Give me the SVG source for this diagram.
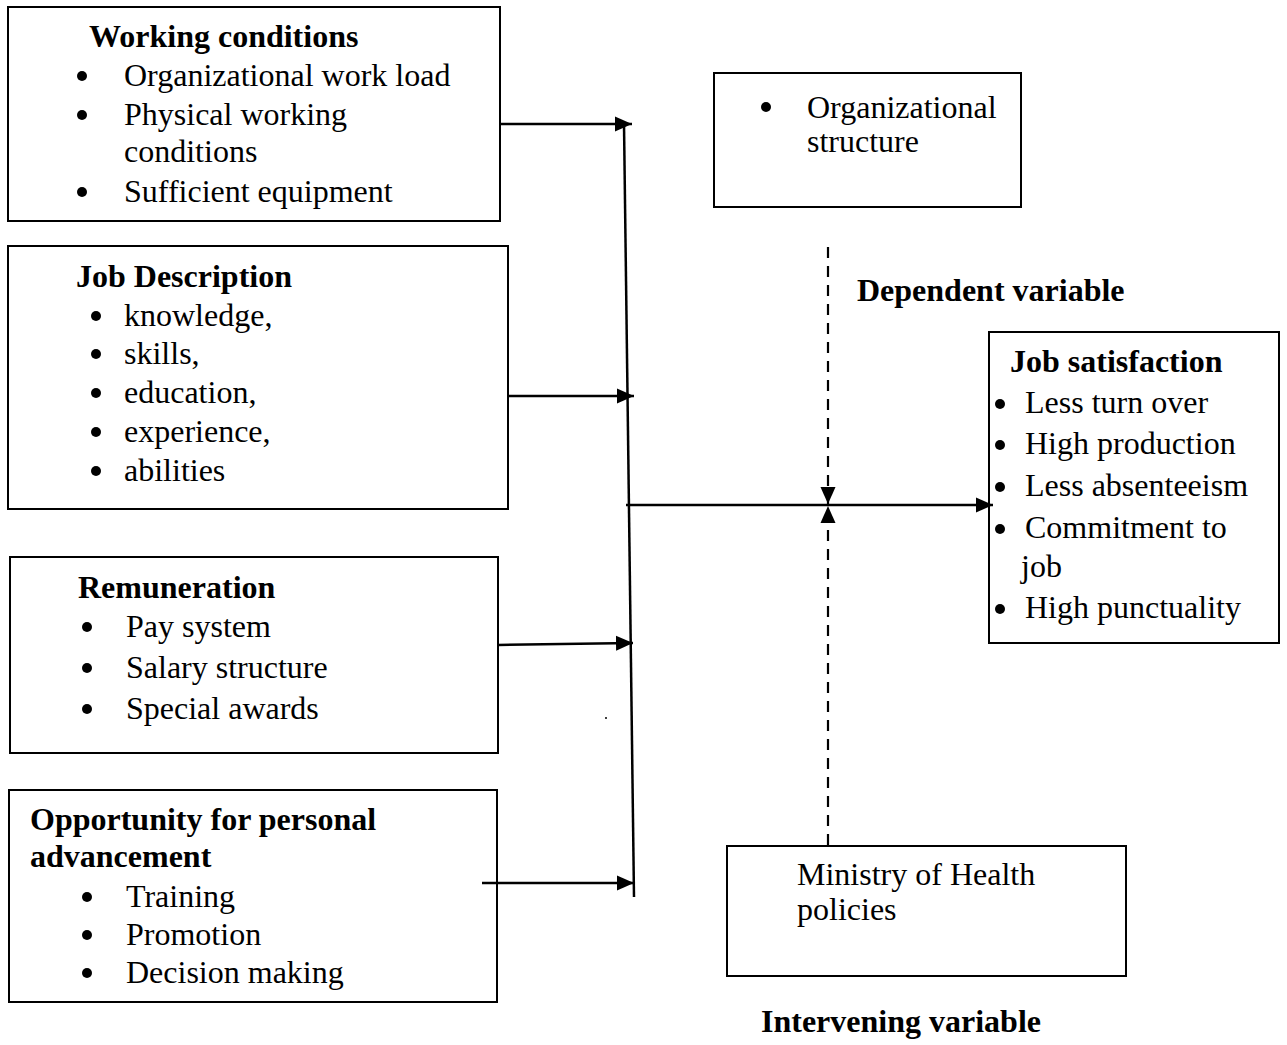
<svg xmlns="http://www.w3.org/2000/svg" width="1287" height="1045" viewBox="0 0 1287 1045">
<style>
.box{fill:#fff;stroke:#000;stroke-width:2}
text{font-family:"Liberation Serif","Times New Roman",serif;font-size:32px;fill:#000}
.b{font-weight:bold}
.dot{fill:#000}
.ln{stroke:#000;stroke-width:2.5;fill:none}
.dash{stroke:#000;stroke-width:2.2;fill:none;stroke-dasharray:11 8}
</style>
<defs>
<marker id="ah" markerUnits="userSpaceOnUse" markerWidth="17" markerHeight="16" viewBox="0 0 17 16" refX="17" refY="8" orient="auto">
<path d="M0,0.5 L17,8 L0,15.5 Z" fill="#000"/>
</marker>
</defs>

<g id="working-conditions">
<rect class="box" x="8" y="7" width="492" height="214"/>
<text class="b" x="89" y="47">Working conditions</text>
<circle class="dot" cx="82" cy="76" r="5"/><text x="124" y="86">Organizational work load</text>
<circle class="dot" cx="82" cy="115" r="5"/><text x="124" y="125">Physical working</text>
<text x="124" y="162">conditions</text>
<circle class="dot" cx="82" cy="192" r="5"/><text x="124" y="202">Sufficient equipment</text>
</g>

<g id="job-description">
<rect class="box" x="8" y="246" width="500" height="263"/>
<text class="b" x="76" y="287">Job Description</text>
<circle class="dot" cx="96" cy="316" r="5"/><text x="124" y="326">knowledge,</text>
<circle class="dot" cx="96" cy="354" r="5"/><text x="124" y="364">skills,</text>
<circle class="dot" cx="96" cy="393" r="5"/><text x="124" y="403">education,</text>
<circle class="dot" cx="96" cy="432" r="5"/><text x="124" y="442">experience,</text>
<circle class="dot" cx="96" cy="471" r="5"/><text x="124" y="481">abilities</text>
</g>

<g id="remuneration">
<rect class="box" x="10" y="557" width="488" height="196"/>
<text class="b" x="78" y="598">Remuneration</text>
<circle class="dot" cx="87" cy="627" r="5"/><text x="126" y="637">Pay system</text>
<circle class="dot" cx="87" cy="668" r="5"/><text x="126" y="678">Salary structure</text>
<circle class="dot" cx="87" cy="709" r="5"/><text x="126" y="719">Special awards</text>
</g>

<g id="opportunity">
<rect class="box" x="9" y="790" width="488" height="212"/>
<text class="b" x="30" y="830">Opportunity for personal</text>
<text class="b" x="30" y="867">advancement</text>
<circle class="dot" cx="87" cy="897" r="5"/><text x="126" y="907">Training</text>
<circle class="dot" cx="87" cy="935" r="5"/><text x="126" y="945">Promotion</text>
<circle class="dot" cx="87" cy="973" r="5"/><text x="126" y="983">Decision making</text>
</g>

<g id="organizational-structure">
<rect class="box" x="714" y="73" width="307" height="134"/>
<circle class="dot" cx="766" cy="107" r="5"/><text x="807" y="118">Organizational</text>
<text x="807" y="152">structure</text>
</g>

<g id="dependent-label">
<text class="b" x="857" y="301">Dependent variable</text>
</g>

<g id="job-satisfaction">
<rect class="box" x="989" y="332" width="290" height="311"/>
<text class="b" x="1010" y="372">Job satisfaction</text>
<circle class="dot" cx="1000" cy="404" r="5"/><text x="1025" y="413">Less turn over</text>
<circle class="dot" cx="1000" cy="445" r="5"/><text x="1025" y="454">High production</text>
<circle class="dot" cx="1000" cy="487" r="5"/><text x="1025" y="496">Less absenteeism</text>
<circle class="dot" cx="1000" cy="529" r="5"/><text x="1025" y="538">Commitment to</text>
<text x="1021" y="577">job</text>
<circle class="dot" cx="1000" cy="609" r="5"/><text x="1025" y="618">High punctuality</text>
</g>

<g id="ministry-policies">
<rect class="box" x="727" y="846" width="399" height="130"/>
<text x="797" y="885">Ministry of Health</text>
<text x="797" y="920">policies</text>
</g>

<g id="intervening-label">
<text class="b" x="761" y="1032">Intervening variable</text>
</g>

<g id="connectors">
<line class="ln" x1="624" y1="124" x2="634" y2="897"/>
<line class="ln" x1="500" y1="124" x2="632" y2="124" marker-end="url(#ah)"/>
<line class="ln" x1="508" y1="396" x2="634" y2="396" marker-end="url(#ah)"/>
<line class="ln" x1="498" y1="645" x2="633" y2="643" marker-end="url(#ah)"/>
<line class="ln" x1="482" y1="883" x2="634" y2="883" marker-end="url(#ah)"/>
<line class="ln" x1="626" y1="505" x2="993" y2="505" marker-end="url(#ah)"/>
<line class="dash" x1="828" y1="247" x2="828" y2="504" marker-end="url(#ah)"/>
<line class="dash" x1="828" y1="845" x2="828" y2="506" marker-end="url(#ah)"/>
<circle cx="606" cy="718" r="1" fill="#000"/>
</g>
</svg>
